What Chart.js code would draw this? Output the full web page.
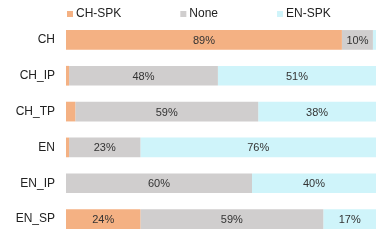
<!DOCTYPE html>
<html>
<head>
<meta charset="utf-8">
<script src="https://cdn.jsdelivr.net/npm/chart.js@4/dist/chart.umd.min.js"></script>
<style>
  html, body { margin: 0; padding: 0; background: #fff; }
  #wrap { width: 388px; height: 243px; }
</style>
</head>
<body>
<div id="wrap"><canvas id="speakers"></canvas></div>
<script>
var categories = ['CH', 'CH_IP', 'CH_TP', 'EN', 'EN_IP', 'EN_SP'];
var chSpk = [89, 1, 3, 1, 0, 24];
var none = [10, 48, 59, 23, 60, 59];
var enSpk = [1, 51, 38, 76, 40, 17];

var FONT = "'Liberation Sans', Arial, sans-serif";

// legend drawn by hand so item spacing matches the picture
var legendPlugin = {
    id: 'topLegend',
    afterDraw: function(chart) {
        var ctx = chart.ctx;
        var x = 67, y = 14;
        ctx.save();
        ctx.font = '12px ' + FONT;
        ctx.textBaseline = 'middle';
        ctx.textAlign = 'left';
        chart.data.datasets.forEach(function(ds) {
            ctx.fillStyle = ds.backgroundColor;
            ctx.fillRect(x, y - 3, 6, 6);
            ctx.fillStyle = '#222';
            ctx.fillText(ds.label, x + 9, y);
            x += 9 + ctx.measureText(ds.label).width + 59;
        });
        ctx.restore();
    }
};

// percent labels in the middle of each segment
var valuePlugin = {
    id: 'segLabels',
    afterDatasetsDraw: function(chart) {
        var ctx = chart.ctx;
        ctx.save();
        ctx.font = '11px ' + FONT;
        ctx.fillStyle = '#333';
        ctx.textAlign = 'center';
        ctx.textBaseline = 'middle';
        chart.data.datasets.forEach(function(ds, i) {
            var meta = chart.getDatasetMeta(i);
            meta.data.forEach(function(bar, j) {
                var v = ds.data[j];
                if (v < 5) return;
                var cx = (bar.x + bar.base) / 2;
                ctx.fillText(v + '%', cx, bar.y + 1);
            });
        });
        ctx.restore();
    }
};

var ctx = document.getElementById('speakers');
var chart = new Chart(ctx, {
    type: 'bar',
    data: {
        labels: categories,
        datasets: [
            { label: 'CH-SPK', data: chSpk, backgroundColor: '#F4B183' },
            { label: 'None', data: none, backgroundColor: '#D0CECE' },
            { label: 'EN-SPK', data: enSpk, backgroundColor: '#CFF4FA' }
        ]
    },
    options: {
        indexAxis: 'y',
        responsive: true,
        maintainAspectRatio: false,
        animation: false,
        barPercentage: 0.55,
        categoryPercentage: 1.0,
        layout: { padding: { top: 22, right: 12, bottom: 6, left: 0 } },
        plugins: {
            legend: { display: false },
            tooltip: { enabled: false }
        },
        scales: {
            x: {
                stacked: true,
                min: 0,
                max: 100,
                display: false
            },
            y: {
                stacked: true,
                grid: { display: false, drawTicks: false },
                border: { display: false },
                ticks: {
                    color: '#222',
                    font: { family: FONT, size: 12 },
                    padding: 11
                },
                afterFit: function(scale) {
                    scale.width = 66;
                    scale.paddingTop = 0;
                    scale.paddingBottom = 0;
                }
            }
        }
    },
    plugins: [legendPlugin, valuePlugin]
});
</script>
</body>
</html>
